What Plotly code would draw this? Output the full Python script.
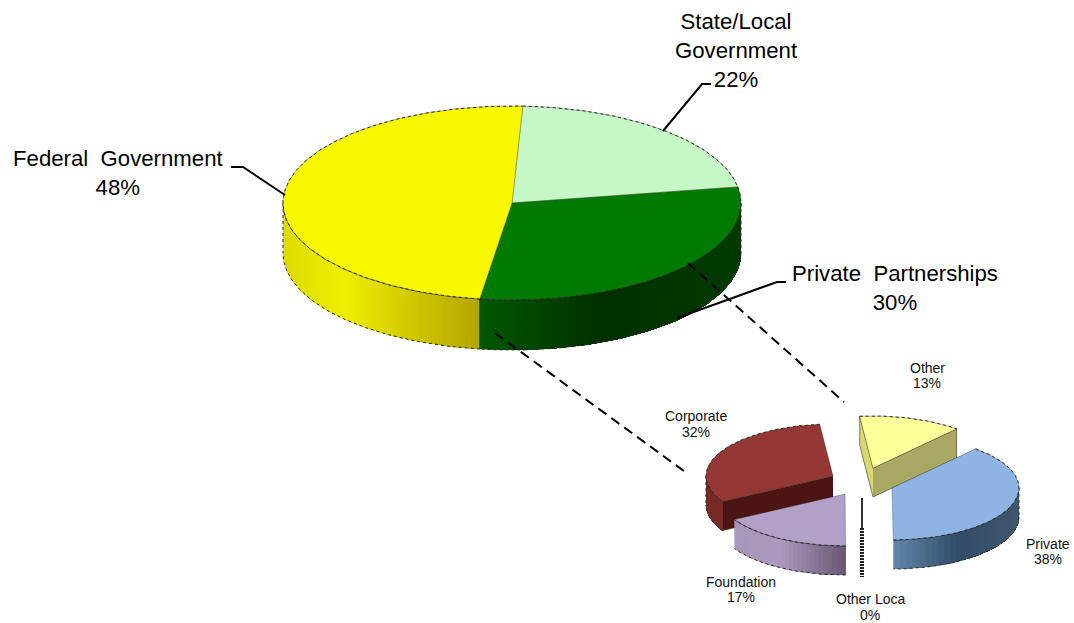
import numpy as np
import plotly.graph_objects as go

# ---- data ----
main_labels = ["State/Local<br>Government<br>22%", "Private  Partnerships<br>30%", "Federal  Government<br>48%"]
main_values = [21.6, 29.9, 48.5]
sub_names = ["Other", "Private", "Other Loca", "Foundation", "Corporate"]
sub_values = [13.1, 38.4, 0.1, 16.9, 31.5]
sub_pct = ["13%", "38%", "0%", "17%", "32%"]

# ---- styles / geometry ----
W, H = 1074, 623
FONT = "Liberation Sans"
EDGE = "#2a2a2a"
MAIN = dict(cx=512, cy=203, rx=229, ry=97, d=50, start=2.7)
SUB = dict(rx=127, ry=52, d=29, start=-6.0)
SUB_CENTRES = [(873, 468), (892, 488), (862, 498), (845, 494), (833, 476)]
MAIN_TOP = ["#c6f8c6", "#007a00", "#f8f800"]
MAIN_WALL = [None,
             [(0, "#005800"), (.45, "#003000"), (1, "#003c00")],
             [(0, "#dcdc00"), (.3, "#efef00"), (.65, "#d0c800"), (1, "#b3a600")]]
SUB_TOP = ["#ffff99", "#8db4e2", "#444444", "#b1a0c7", "#953735"]
SUB_WALL = [[(0, "#d8d870"), (1, "#d8d870")],
            [(0, "#5f83a8"), (.5, "#324d68"), (1, "#41586e")],
            [(0, "#222222"), (1, "#222222")],
            [(0, "#a797bb"), (.4, "#ab9abf"), (1, "#66566f")],
            [(0, "#7a2a28"), (1, "#7a2a28")]]

fig = go.Figure()


def pt(cx, cy, rx, ry, t):
    t = np.radians(t)
    return cx + rx * np.sin(t), cy - ry * np.cos(t)


def poly(xs, ys, fill, line=None, lw=0.6):
    fig.add_trace(go.Scatter(x=list(xs), y=list(ys), mode="lines", fill="toself", fillcolor=fill,
                             line=dict(color=line or fill, width=lw), hoverinfo="skip", showlegend=False))


def path(xs, ys, color=EDGE, w=1.0, dash="solid"):
    fig.add_trace(go.Scatter(x=list(xs), y=list(ys), mode="lines",
                             line=dict(color=color, width=w, dash=dash), hoverinfo="skip", showlegend=False))


def hexrgb(c):
    return np.array([int(c[i:i + 2], 16) for i in (1, 3, 5)], float)


def shade(stops, f):
    ps = [s[0] for s in stops]
    cs = np.array([hexrgb(s[1]) for s in stops])
    v = [np.interp(f, ps, cs[:, i]) for i in range(3)]
    return "rgb(%d,%d,%d)" % tuple(v)


def wall(cx, cy, rx, ry, d, a, b, stops, n=44):
    lo, hi = max(a, 90), min(b, 270)
    if hi <= lo:
        return
    ts = np.linspace(lo, hi, n + 1)
    x, y = pt(cx, cy, rx, ry, ts)
    xmin, xmax = x.min(), x.max()
    # painted from one end to the other, each band reaching the far end, so no seams show
    order = np.argsort(x)
    xs, ys = x[order], y[order]
    for i in range(n):
        f = (xs[i] - xmin) / max(xmax - xmin, 1)
        poly(list(xs[i:]) + list(xs[i:][::-1]),
             list(ys[i:]) + list((ys[i:] + d)[::-1]), shade(stops, f), lw=0)
    path(x, y + d, EDGE, 1.0, "dot")
    path(x, y, "#333333", 0.7)
    if lo == 90:
        path([x[0], x[0]], [y[0], y[0] + d], EDGE, 1.0, "dot")
    if hi == 270:
        path([x[-1], x[-1]], [y[-1], y[-1] + d], EDGE, 1.0, "dot")


def top(cx, cy, rx, ry, a, b, fill):
    ts = np.linspace(a, b, max(int(b - a) + 2, 3))
    x, y = pt(cx, cy, rx, ry, ts)
    poly([cx, *x, cx], [cy, *y, cy], fill, "rgba(40,40,40,0.55)", 0.6)
    path(x, y, EDGE, 1.0, "dot")


def cut(cx, cy, rx, ry, d, t, fill):
    x, y = pt(cx, cy, rx, ry, t)
    poly([cx, x, x, cx], [cy, y, y + d, cy + d], fill, EDGE, 0.6)


# ---- main pie ----
edges = MAIN["start"] + np.concatenate([[0], np.cumsum(main_values)]) * 3.6
g = (MAIN["cx"], MAIN["cy"], MAIN["rx"], MAIN["ry"])
for i in (2, 1):
    wall(*g, MAIN["d"], edges[i], edges[i + 1], MAIN_WALL[i], n=70)
for i in range(3):
    top(*g, edges[i], edges[i + 1], MAIN_TOP[i])
x0, y0 = pt(*g, edges[2])
path([x0, x0], [y0, y0 + MAIN["d"]], "#222222", 0.8)

# ---- exploded pie ----
e = SUB["start"] + np.concatenate([[0], np.cumsum(sub_values)]) * 3.6
for i in (4, 3, 0, 1, 2):
    cx, cy = SUB_CENTRES[i]
    r = (cx, cy, SUB["rx"], SUB["ry"])
    if i == 2:
        path([cx, cx], [cy, cy + 30], "#333333", 2)
        path([cx, cx], [cy + 30, cy + 52 + SUB["d"] - 2], "#222222", 4, "2px,1px")
        continue
    if i == 0:
        cut(*r, SUB["d"], e[0], "#d8d870")
        cut(*r, SUB["d"], e[1], "#a8a862")
    if i == 4:
        cut(*r, SUB["d"], e[4], "#4a1512")
    wall(*r, SUB["d"], e[i], e[i + 1], SUB_WALL[i], n=30)
    top(*r, e[i], e[i + 1], SUB_TOP[i])

# ---- leader and connector lines ----
path([285, 243, 231], [195, 167, 167], "#000000", 2)
path([663, 702, 711], [131, 84, 84], "#000000", 2)
path([677, 777, 786], [318, 282, 282], "#000000", 2)
path([688, 844], [263, 402], "#000000", 2, "10px,6px")
path([495, 688], [333, 474], "#000000", 2, "10px,6px")

# ---- labels ----
big = dict(family=FONT, size=22.2, color="#000000")
small = dict(family=FONT, size=14, color="#111111")
for ax, ay, txt in [(736, 50, main_labels[0]), (895, 288, main_labels[1]), (118, 173, main_labels[2])]:
    fig.add_annotation(x=ax, y=ay, text=txt.replace("  ", "&nbsp;&nbsp;"), showarrow=False, font=big, align="center",
                       xanchor="center", yanchor="middle")
sub_label_at = [(927, 368, 383), (1048, 544, 559), (870, 599, 615), (741, 582, 597), (696, 416, 432)]
for name, pct, (ax, y1, y2) in zip(sub_names, sub_pct, sub_label_at):
    for txt, ay in ((name, y1), (pct, y2)):
        fig.add_annotation(x=ax, y=ay, text=txt, showarrow=False, font=small, xanchor="center", yanchor="middle")

axis = dict(visible=False, fixedrange=True)
fig.update_layout(width=W, height=H, margin=dict(l=0, r=0, t=0, b=0), showlegend=False,
                  paper_bgcolor="white", plot_bgcolor="white",
                  xaxis=dict(range=[0, W], **axis), yaxis=dict(range=[H, 0], **axis))
fig.write_html("out.html", config=dict(displayModeBar=False),
               post_script="document.body.style.margin='0';document.body.style.overflow='hidden';")
